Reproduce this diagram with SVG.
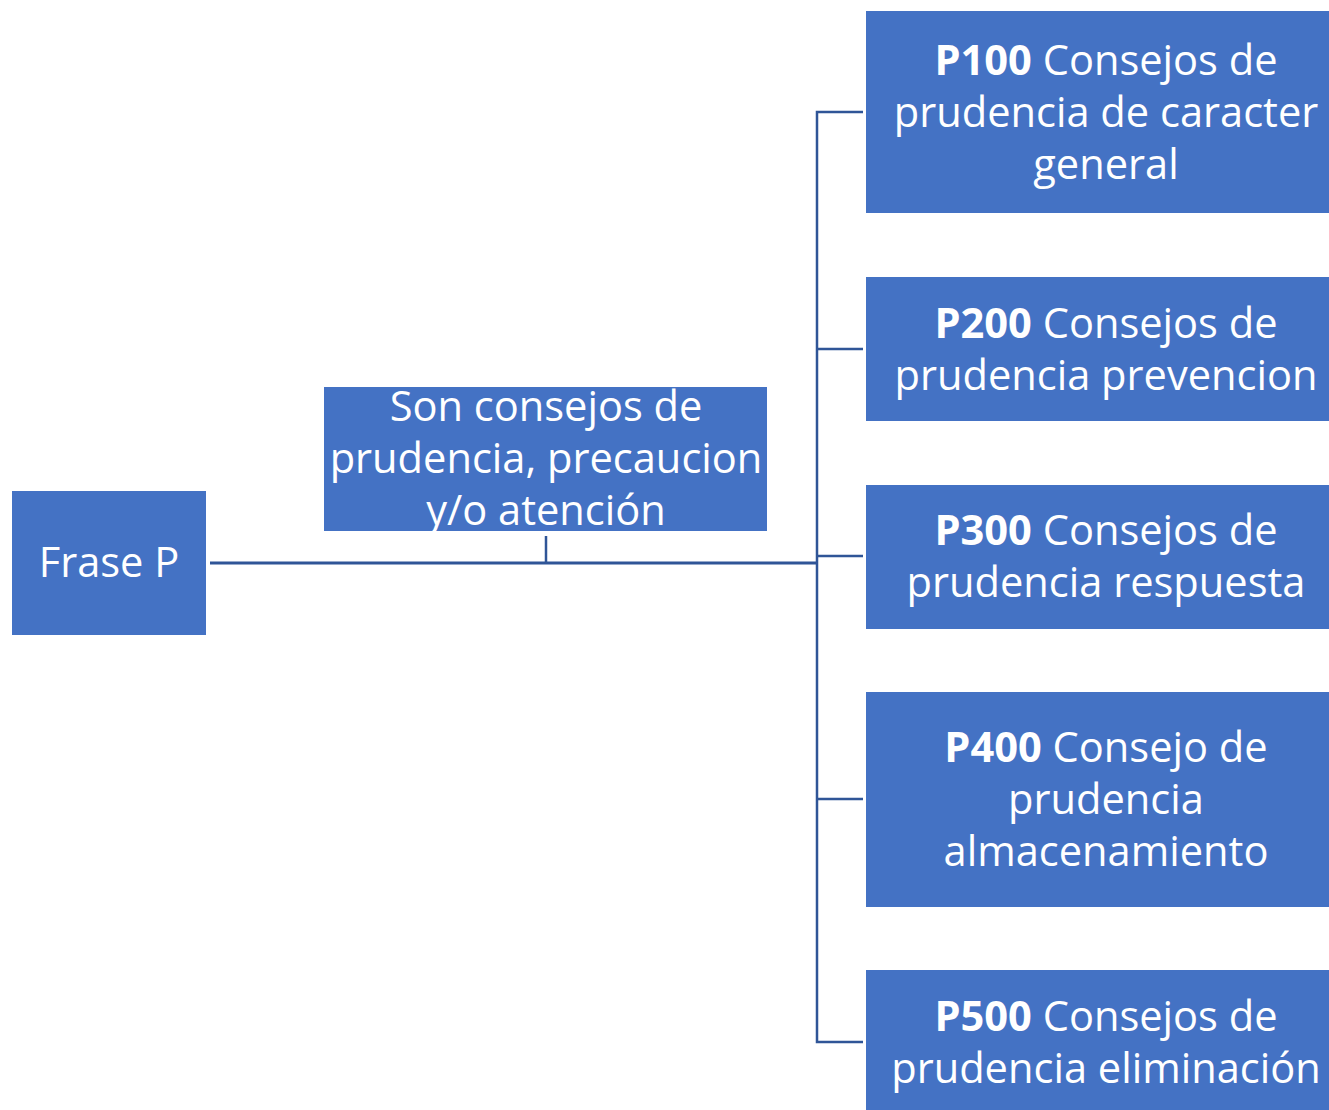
<svg xmlns="http://www.w3.org/2000/svg" width="1329" height="1110" viewBox="0 0 1329 1110">
<style>
.box{fill:#4472C4;}
.t{font-family:"Open Sans","Noto Sans","Liberation Sans",sans-serif;font-size:41.6px;fill:#FFFFFF;text-anchor:middle;}
.b{font-weight:bold;}
.ln{stroke:#2F5597;fill:none;stroke-width:2.5;}
.lt{stroke:#2F5597;fill:none;stroke-width:3;}
</style>
<rect width="1329" height="1110" fill="#FFFFFF"/>
<g id="connectors">
<line class="lt" x1="210" y1="563" x2="817" y2="563"/>
<line class="ln" x1="546" y1="536" x2="546" y2="563"/>
<polyline class="ln" points="863,112 817,112 817,1042 863,1042"/>
<line class="ln" x1="817" y1="349" x2="863" y2="349"/>
<line class="ln" x1="817" y1="556" x2="863" y2="556"/>
<line class="ln" x1="817" y1="799" x2="863" y2="799"/>
</g>
<g id="frase-p">
<rect class="box" x="12" y="491" width="194" height="144"/>
<text class="t" x="109" y="577">Frase P</text>
</g>
<g id="descripcion">
<rect class="box" x="324" y="387" width="443" height="144"/>
<text class="t" x="546" y="421">Son consejos de</text>
<text class="t" x="546" y="473">prudencia, precaucion</text>
<text class="t" x="546" y="525">y/o atención</text>
</g>
<g id="p100">
<rect class="box" x="866" y="11" width="463" height="202"/>
<text class="t" x="1106" y="75"><tspan class="b">P100</tspan> Consejos de</text>
<text class="t" x="1106" y="127">prudencia de caracter</text>
<text class="t" x="1106" y="179">general</text>
</g>
<g id="p200">
<rect class="box" x="866" y="277" width="463" height="144"/>
<text class="t" x="1106" y="338"><tspan class="b">P200</tspan> Consejos de</text>
<text class="t" x="1106" y="390">prudencia prevencion</text>
</g>
<g id="p300">
<rect class="box" x="866" y="485" width="463" height="144"/>
<text class="t" x="1106" y="545"><tspan class="b">P300</tspan> Consejos de</text>
<text class="t" x="1106" y="597">prudencia respuesta</text>
</g>
<g id="p400">
<rect class="box" x="866" y="692" width="463" height="215"/>
<text class="t" x="1106" y="762"><tspan class="b">P400</tspan> Consejo de</text>
<text class="t" x="1106" y="814">prudencia</text>
<text class="t" x="1106" y="866">almacenamiento</text>
</g>
<g id="p500">
<rect class="box" x="866" y="970" width="463" height="140"/>
<text class="t" x="1106" y="1031"><tspan class="b">P500</tspan> Consejos de</text>
<text class="t" x="1106" y="1083">prudencia eliminación</text>
</g>
</svg>
